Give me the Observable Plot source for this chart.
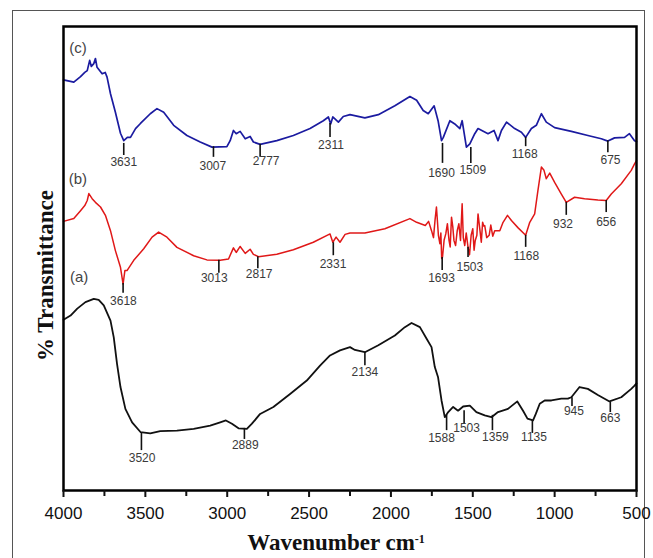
<!DOCTYPE html>
<html><head><meta charset="utf-8">
<script src="https://cdn.jsdelivr.net/npm/d3@7"></script>
<script src="https://cdn.jsdelivr.net/npm/@observablehq/plot@0.6"></script>
<style>
body{margin:0;background:#fff;}
#wrap{position:relative;width:653px;height:558px;overflow:hidden;background:#fff;}
#border{position:absolute;left:12px;top:10px;width:633px;height:600px;border:1px solid #555;box-sizing:border-box;}
#chart{position:absolute;left:0;top:0;}
</style></head><body><div id="wrap"><div id="border"></div><div id="chart"></div></div>
<script>
// Series (c) – blue
const wnC = [4000,3937,3896,3870,3855,3840,3830,3815,3805,3795,3764,3745,3734,3713,3683,3652,3632,3610,3591,3560,3530,3470,3429,3388,3327,3246,3165,3093,3002,2982,2962,2945,2921,2890,2860,2840,2799,2697,2596,2494,2413,2382,2368,2355,2321,2291,2250,2159,2077,1976,1884,1843,1803,1772,1736,1712,1691,1680,1640,1610,1579,1565,1539,1518,1488,1468,1407,1370,1346,1325,1294,1244,1203,1177,1142,1112,1081,1051,1000,898,797,715,675,634,573,543,512,500];
const tC  = [88.5,88.0,89.2,90.1,90.5,92.7,91.4,92.0,93.1,91.2,89.8,90.1,89.1,85.5,81.5,77.0,75.4,76.1,76.1,78.0,79.1,81.2,82.3,81.5,78.7,76.5,75.1,74.0,74.1,75.4,77.6,76.9,77.4,75.8,76.3,75.1,74.6,75.4,76.5,78.0,79.7,80.5,79.0,80.5,79.4,80.6,81.0,80.3,81.0,82.9,84.9,84.1,81.9,81.2,82.9,79.7,75.4,76.1,79.7,79.0,78.0,79.7,74.0,74.7,76.9,78.0,76.9,77.6,75.4,77.6,79.4,78.0,77.2,76.1,78.0,78.7,81.2,79.4,78.2,77.4,76.5,75.8,75.3,76.0,76.1,76.9,75.4,75.2];
// Series (b) – red
const wnB = [4000,3937,3896,3870,3855,3845,3825,3805,3774,3744,3713,3683,3652,3636,3625,3612,3571,3510,3459,3419,3368,3307,3205,3124,3043,2992,2962,2945,2921,2890,2860,2840,2809,2697,2596,2474,2372,2355,2335,2311,2280,2250,2159,2037,1884,1843,1790,1770,1752,1740,1730,1722,1710,1701,1695,1690,1685,1675,1665,1655,1645,1638,1630,1622,1615,1605,1595,1585,1575,1565,1558,1549,1540,1529,1520,1510,1500,1492,1485,1475,1468,1455,1448,1440,1433,1427,1415,1400,1390,1378,1366,1335,1315,1288,1264,1223,1177,1152,1122,1102,1081,1065,1051,1030,1000,959,929,878,817,736,685,654,593,532,512,500];
const tB  = [58.0,58.6,60.3,61.4,62.5,64.0,62.9,62.1,61.1,59.3,56.0,51.7,48.1,44.5,47.4,47.4,49.6,52.1,54.6,55.7,54.6,52.4,50.6,49.7,49.6,49.9,52.3,51.3,52.6,51.1,52.0,50.9,50.4,50.9,51.9,53.5,55.3,53.5,54.6,53.5,55.2,55.5,55.5,56.4,58.6,57.8,57.1,58.0,56.0,54.5,58.5,61.1,55.0,53.2,55.5,50.0,50.3,54.0,55.3,57.5,53.9,52.5,58.9,56.8,53.9,52.8,56.0,57.5,53.9,61.8,54.5,52.8,55.5,52.4,50.8,55.0,56.4,51.8,53.9,55.0,59.6,55.7,53.5,57.8,57.0,57.1,54.5,55.0,57.2,54.8,56.0,56.0,57.8,59.3,58.2,56.6,55.0,57.8,59.6,64.7,69.7,69.0,67.2,68.4,66.4,63.9,62.1,63.2,62.9,62.6,62.5,63.9,66.1,69.0,70.4,71.1];
// Series (a) – black
const wnA = [4000,3957,3916,3866,3815,3785,3754,3713,3693,3673,3652,3622,3581,3530,3470,3409,3307,3205,3104,3043,3008,2971,2931,2880,2849,2799,2718,2616,2514,2433,2372,2311,2250,2220,2159,2077,1976,1915,1874,1823,1782,1752,1732,1712,1691,1671,1650,1620,1590,1559,1518,1478,1427,1386,1346,1285,1228,1193,1166,1132,1115,1091,1061,1020,959,919,898,848,797,736,665,593,532,512,500];
const tA  = [36.8,37.7,39.2,40.6,41.3,41.1,39.9,36.6,33.0,27.3,22.3,17.6,14.7,12.6,12.3,12.8,12.9,13.3,14.0,14.7,15.1,14.4,13.4,13.3,14.4,16.5,18.0,20.8,23.7,26.9,29.1,30.2,30.9,30.3,29.8,31.3,33.4,35.2,36.1,35.2,32.7,30.9,26.6,24.4,19.4,15.8,16.9,18.0,17.2,18.1,18.3,16.9,16.2,15.8,16.9,17.6,19.2,17.2,15.5,15.1,16.5,18.7,19.4,19.4,19.8,19.8,20.1,22.3,21.9,20.6,19.2,20.1,21.9,22.6,23.1];

// Peak annotations: label text, marker wavenumber, marker top/bottom, label position
const peakLabels = ["3631","3007","2777","2311","1690","1509","1168","675",
                    "3618","3013","2817","2331","1693","1503","1168","932","656",
                    "3520","2889","2134","1588","1503","1359","1135","945","663"];
const peakWn     = [3632,3084,2799,2372,1685,1512,1177,675,
                    3636,3051,2813,2352,1687,1529,1177,929,685,
                    3524,2895,2159,1660,1553,1380,1136,894,660];
const peakTop    = [74.8,74.1,74.6,79.1,74.8,73.9,76.1,75.4,
                    44.6,49.6,50.4,53.4,50.2,52.4,55.0,62.1,62.5,
                    12.3,13.4,29.8,16.2,17.2,16.2,15.1,20.0,19.0];
const peakBottom = [72.2,71.8,71.8,76.1,70.5,70.5,74.1,72.8,
                    42.5,46.8,47.8,50.6,47.4,50.2,52.4,59.3,59.9,
                    8.6,11.0,26.9,12.9,14.4,12.9,12.3,18.1,16.8];
const labelWn    = [3632,3088,2762,2366,1691,1500,1183,659,
                    3634,3079,2805,2354,1691,1518,1173,949,685,
                    3520,2890,2159,1691,1538,1362,1126,882,660];
const labelT     = [70.7,69.8,70.9,74.4,68.5,69.0,72.4,71.1,
                    40.9,45.7,46.6,48.7,45.7,48.1,50.6,57.5,57.8,
                    6.9,9.7,25.4,11.2,13.4,11.4,11.6,17.0,15.5];

const seriesNames = ["(c)","(b)","(a)"];
const seriesLabelWn = [3912,3912,3905];
const seriesLabelT = [95.3,67.2,45.9];

const majorTicks = [4000,3500,3000,2500,2000,1500,1000,500];
const minorTicks = [3750,3250,2750,2250,1750,1250,750];

const toRows = (wn, t) => wn.map((w, i) => ({wn: w, t: t[i]}));
const dataC = toRows(wnC, tC), dataB = toRows(wnB, tB), dataA = toRows(wnA, tA);
const peaks = peakLabels.map((l, i) => ({label: l, wn: peakWn[i], top: peakTop[i], bottom: peakBottom[i], lx: labelWn[i], ly: labelT[i]}));
const sLabels = seriesNames.map((n, i) => ({name: n, wn: seriesLabelWn[i], t: seriesLabelT[i]}));

const serif = "'Liberation Serif', 'Times New Roman', serif";
const chart = Plot.plot({
  width: 653, height: 558,
  marginLeft: 63, marginRight: 17, marginTop: 26, marginBottom: 68,
  style: {fontFamily: "'Liberation Sans', Arial, sans-serif", fontSize: "17px", background: "transparent", color: "#111"},
  x: {domain: [4000, 500], axis: null},
  y: {domain: [0, 100], axis: null},
  marks: [
    Plot.line(dataC, {x: "wn", y: "t", stroke: "#1b1ba0", strokeWidth: 1.7}),
    Plot.line(dataB, {x: "wn", y: "t", stroke: "#e01818", strokeWidth: 1.5}),
    Plot.line(dataA, {x: "wn", y: "t", stroke: "#111", strokeWidth: 1.8}),
    Plot.ruleX(peaks, {x: "wn", y1: "top", y2: "bottom", stroke: "#111", strokeWidth: 1.6}),
    Plot.text(peaks, {x: "lx", y: "ly", text: "label", fontSize: 12, fill: "#3a3a3a"}),
    Plot.text(sLabels, {x: "wn", y: "t", text: "name", fontSize: 15, fill: "#444"}),
    Plot.frame({stroke: "#000", strokeWidth: 2.5}),
    Plot.axisX({ticks: majorTicks, tickSize: 7, tickPadding: 9, strokeWidth: 2, fontSize: 17, fill: "#111", tickFormat: d => String(d)}),
    Plot.axisX({ticks: minorTicks, tickSize: 6, strokeWidth: 2, tickFormat: () => ""}),
    Plot.text(["Wavenumber cm"], {frameAnchor: "bottom", dx: -14, dy: 59, fontSize: 23, fontWeight: "bold", fontFamily: serif, fill: "#111"}),
    Plot.text(["% Transmittance"], {frameAnchor: "left", rotate: -90, textAnchor: "middle", dx: -18, dy: 17, fontSize: 23, fontWeight: "bold", fontFamily: serif, fill: "#111"})
  ]
});
document.getElementById("chart").appendChild(chart);
// superscript for the unit
d3.select(chart).selectAll("text").filter(function(){ return this.textContent === "Wavenumber cm"; })
  .append("tspan").attr("dy", "-0.55em").attr("font-size", "12px").text("-1");
</script></body></html>
